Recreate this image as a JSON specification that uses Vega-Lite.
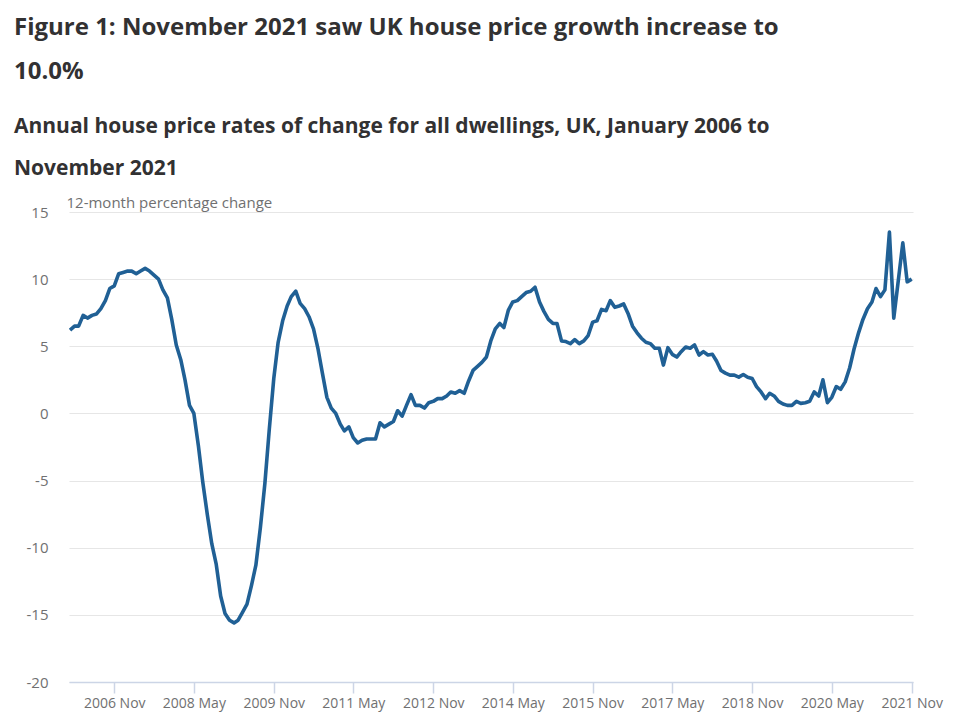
{
  "$schema": "https://vega.github.io/schema/vega-lite/v6.json",
  "autosize": {"type": "none"},
  "width": 844,
  "height": 470,
  "padding": {"left": 69, "top": 212, "right": 47, "bottom": 37},
  "background": "white",
  "config": {"view": {"stroke": null}, "font": "Open Sans"},
  "title": {
    "text": ["Figure 1: November 2021 saw UK house price growth increase to", "10.0%"],
    "subtitle": ["Annual house price rates of change for all dwellings, UK, January 2006 to", "November 2021"],
    "anchor": "start",
    "frame": "group",
    "dx": -55,
    "offset": 16,
    "font": "Open Sans",
    "fontSize": 24,
    "fontWeight": "bold",
    "color": "#323132",
    "lineHeight": 44,
    "subtitleFont": "Open Sans",
    "subtitleFontSize": 21,
    "subtitleFontWeight": "bold",
    "subtitleColor": "#323132",
    "subtitleLineHeight": 42,
    "subtitlePadding": 32
  },
  "data": {
    "values": [
      {"date": "2006-01-01", "value": 6.2},
      {"date": "2006-02-01", "value": 6.5},
      {"date": "2006-03-01", "value": 6.5},
      {"date": "2006-04-01", "value": 7.3},
      {"date": "2006-05-01", "value": 7.1},
      {"date": "2006-06-01", "value": 7.3},
      {"date": "2006-07-01", "value": 7.4},
      {"date": "2006-08-01", "value": 7.8},
      {"date": "2006-09-01", "value": 8.4},
      {"date": "2006-10-01", "value": 9.3},
      {"date": "2006-11-01", "value": 9.5},
      {"date": "2006-12-01", "value": 10.4},
      {"date": "2007-01-01", "value": 10.5},
      {"date": "2007-02-01", "value": 10.6},
      {"date": "2007-03-01", "value": 10.6},
      {"date": "2007-04-01", "value": 10.4},
      {"date": "2007-05-01", "value": 10.6},
      {"date": "2007-06-01", "value": 10.8},
      {"date": "2007-07-01", "value": 10.6},
      {"date": "2007-08-01", "value": 10.3},
      {"date": "2007-09-01", "value": 10.0},
      {"date": "2007-10-01", "value": 9.2},
      {"date": "2007-11-01", "value": 8.6},
      {"date": "2007-12-01", "value": 7.0},
      {"date": "2008-01-01", "value": 5.1},
      {"date": "2008-02-01", "value": 4.0},
      {"date": "2008-03-01", "value": 2.5},
      {"date": "2008-04-01", "value": 0.6},
      {"date": "2008-05-01", "value": 0.0},
      {"date": "2008-06-01", "value": -2.4},
      {"date": "2008-07-01", "value": -5.1},
      {"date": "2008-08-01", "value": -7.5},
      {"date": "2008-09-01", "value": -9.7},
      {"date": "2008-10-01", "value": -11.2},
      {"date": "2008-11-01", "value": -13.6},
      {"date": "2008-12-01", "value": -14.9},
      {"date": "2009-01-01", "value": -15.4},
      {"date": "2009-02-01", "value": -15.6},
      {"date": "2009-03-01", "value": -15.4},
      {"date": "2009-04-01", "value": -14.8},
      {"date": "2009-05-01", "value": -14.2},
      {"date": "2009-06-01", "value": -12.8},
      {"date": "2009-07-01", "value": -11.3},
      {"date": "2009-08-01", "value": -8.5},
      {"date": "2009-09-01", "value": -5.2},
      {"date": "2009-10-01", "value": -1.2},
      {"date": "2009-11-01", "value": 2.6},
      {"date": "2009-12-01", "value": 5.3},
      {"date": "2010-01-01", "value": 6.9},
      {"date": "2010-02-01", "value": 8.0},
      {"date": "2010-03-01", "value": 8.7},
      {"date": "2010-04-01", "value": 9.1},
      {"date": "2010-05-01", "value": 8.2},
      {"date": "2010-06-01", "value": 7.8},
      {"date": "2010-07-01", "value": 7.2},
      {"date": "2010-08-01", "value": 6.3},
      {"date": "2010-09-01", "value": 4.8},
      {"date": "2010-10-01", "value": 3.0},
      {"date": "2010-11-01", "value": 1.2},
      {"date": "2010-12-01", "value": 0.4},
      {"date": "2011-01-01", "value": 0.0},
      {"date": "2011-02-01", "value": -0.8},
      {"date": "2011-03-01", "value": -1.3},
      {"date": "2011-04-01", "value": -1.0},
      {"date": "2011-05-01", "value": -1.8},
      {"date": "2011-06-01", "value": -2.2},
      {"date": "2011-07-01", "value": -2.0},
      {"date": "2011-08-01", "value": -1.9},
      {"date": "2011-09-01", "value": -1.9},
      {"date": "2011-10-01", "value": -1.9},
      {"date": "2011-11-01", "value": -0.7},
      {"date": "2011-12-01", "value": -1.0},
      {"date": "2012-01-01", "value": -0.8},
      {"date": "2012-02-01", "value": -0.6},
      {"date": "2012-03-01", "value": 0.2},
      {"date": "2012-04-01", "value": -0.2},
      {"date": "2012-05-01", "value": 0.6},
      {"date": "2012-06-01", "value": 1.4},
      {"date": "2012-07-01", "value": 0.6},
      {"date": "2012-08-01", "value": 0.6},
      {"date": "2012-09-01", "value": 0.4},
      {"date": "2012-10-01", "value": 0.8},
      {"date": "2012-11-01", "value": 0.9},
      {"date": "2012-12-01", "value": 1.1},
      {"date": "2013-01-01", "value": 1.1},
      {"date": "2013-02-01", "value": 1.3},
      {"date": "2013-03-01", "value": 1.6},
      {"date": "2013-04-01", "value": 1.5},
      {"date": "2013-05-01", "value": 1.7},
      {"date": "2013-06-01", "value": 1.5},
      {"date": "2013-07-01", "value": 2.4},
      {"date": "2013-08-01", "value": 3.2},
      {"date": "2013-09-01", "value": 3.5},
      {"date": "2013-10-01", "value": 3.8},
      {"date": "2013-11-01", "value": 4.2},
      {"date": "2013-12-01", "value": 5.4},
      {"date": "2014-01-01", "value": 6.3},
      {"date": "2014-02-01", "value": 6.7},
      {"date": "2014-03-01", "value": 6.4},
      {"date": "2014-04-01", "value": 7.7},
      {"date": "2014-05-01", "value": 8.3},
      {"date": "2014-06-01", "value": 8.4},
      {"date": "2014-07-01", "value": 8.7},
      {"date": "2014-08-01", "value": 9.0},
      {"date": "2014-09-01", "value": 9.1},
      {"date": "2014-10-01", "value": 9.4},
      {"date": "2014-11-01", "value": 8.3},
      {"date": "2014-12-01", "value": 7.6},
      {"date": "2015-01-01", "value": 7.0},
      {"date": "2015-02-01", "value": 6.7},
      {"date": "2015-03-01", "value": 6.7},
      {"date": "2015-04-01", "value": 5.4},
      {"date": "2015-05-01", "value": 5.35},
      {"date": "2015-06-01", "value": 5.2},
      {"date": "2015-07-01", "value": 5.5},
      {"date": "2015-08-01", "value": 5.2},
      {"date": "2015-09-01", "value": 5.4},
      {"date": "2015-10-01", "value": 5.8},
      {"date": "2015-11-01", "value": 6.8},
      {"date": "2015-12-01", "value": 6.9},
      {"date": "2016-01-01", "value": 7.75},
      {"date": "2016-02-01", "value": 7.65},
      {"date": "2016-03-01", "value": 8.4},
      {"date": "2016-04-01", "value": 7.9},
      {"date": "2016-05-01", "value": 8.0},
      {"date": "2016-06-01", "value": 8.15},
      {"date": "2016-07-01", "value": 7.45},
      {"date": "2016-08-01", "value": 6.5},
      {"date": "2016-09-01", "value": 6.0},
      {"date": "2016-10-01", "value": 5.6},
      {"date": "2016-11-01", "value": 5.3},
      {"date": "2016-12-01", "value": 5.2},
      {"date": "2017-01-01", "value": 4.85},
      {"date": "2017-02-01", "value": 4.85},
      {"date": "2017-03-01", "value": 3.6},
      {"date": "2017-04-01", "value": 4.9},
      {"date": "2017-05-01", "value": 4.4},
      {"date": "2017-06-01", "value": 4.2},
      {"date": "2017-07-01", "value": 4.6},
      {"date": "2017-08-01", "value": 4.95},
      {"date": "2017-09-01", "value": 4.85},
      {"date": "2017-10-01", "value": 5.1},
      {"date": "2017-11-01", "value": 4.35},
      {"date": "2017-12-01", "value": 4.6},
      {"date": "2018-01-01", "value": 4.35},
      {"date": "2018-02-01", "value": 4.4},
      {"date": "2018-03-01", "value": 3.9},
      {"date": "2018-04-01", "value": 3.2},
      {"date": "2018-05-01", "value": 3.0},
      {"date": "2018-06-01", "value": 2.85},
      {"date": "2018-07-01", "value": 2.85},
      {"date": "2018-08-01", "value": 2.7},
      {"date": "2018-09-01", "value": 2.9},
      {"date": "2018-10-01", "value": 2.7},
      {"date": "2018-11-01", "value": 2.6},
      {"date": "2018-12-01", "value": 2.0},
      {"date": "2019-01-01", "value": 1.6},
      {"date": "2019-02-01", "value": 1.1},
      {"date": "2019-03-01", "value": 1.5},
      {"date": "2019-04-01", "value": 1.3},
      {"date": "2019-05-01", "value": 0.9},
      {"date": "2019-06-01", "value": 0.7},
      {"date": "2019-07-01", "value": 0.6},
      {"date": "2019-08-01", "value": 0.6},
      {"date": "2019-09-01", "value": 0.9},
      {"date": "2019-10-01", "value": 0.75},
      {"date": "2019-11-01", "value": 0.8},
      {"date": "2019-12-01", "value": 0.9},
      {"date": "2020-01-01", "value": 1.6},
      {"date": "2020-02-01", "value": 1.3},
      {"date": "2020-03-01", "value": 2.5},
      {"date": "2020-04-01", "value": 0.8},
      {"date": "2020-05-01", "value": 1.2},
      {"date": "2020-06-01", "value": 2.0},
      {"date": "2020-07-01", "value": 1.8},
      {"date": "2020-08-01", "value": 2.35},
      {"date": "2020-09-01", "value": 3.4},
      {"date": "2020-10-01", "value": 4.8},
      {"date": "2020-11-01", "value": 6.0},
      {"date": "2020-12-01", "value": 7.0},
      {"date": "2021-01-01", "value": 7.8},
      {"date": "2021-02-01", "value": 8.3},
      {"date": "2021-03-01", "value": 9.3},
      {"date": "2021-04-01", "value": 8.7},
      {"date": "2021-05-01", "value": 9.2},
      {"date": "2021-06-01", "value": 13.5},
      {"date": "2021-07-01", "value": 7.1},
      {"date": "2021-08-01", "value": 9.9},
      {"date": "2021-09-01", "value": 12.7},
      {"date": "2021-10-01", "value": 9.8},
      {"date": "2021-11-01", "value": 10.0}
    ]
  },
  "mark": {"type": "line", "color": "#206095", "strokeWidth": 3.6, "strokeJoin": "round"},
  "encoding": {
    "x": {
      "field": "date",
      "type": "temporal",
      "scale": {
        "type": "utc",
        "domain": [
          {"year": 2005, "month": 12, "date": 25, "utc": true},
          {"year": 2021, "month": 11, "date": 10, "utc": true}
        ]
      },
      "axis": {
        "title": null,
        "values": [
          {"year": 2006, "month": 11, "date": 1, "utc": true},
          {"year": 2008, "month": 5, "date": 1, "utc": true},
          {"year": 2009, "month": 11, "date": 1, "utc": true},
          {"year": 2011, "month": 5, "date": 1, "utc": true},
          {"year": 2012, "month": 11, "date": 1, "utc": true},
          {"year": 2014, "month": 5, "date": 1, "utc": true},
          {"year": 2015, "month": 11, "date": 1, "utc": true},
          {"year": 2017, "month": 5, "date": 1, "utc": true},
          {"year": 2018, "month": 11, "date": 1, "utc": true},
          {"year": 2020, "month": 5, "date": 1, "utc": true},
          {"year": 2021, "month": 11, "date": 1, "utc": true}
        ],
        "format": "%Y %b",
        "grid": false,
        "domainColor": "#ccd5e6",
        "domainWidth": 1.5,
        "tickColor": "#ccd5e6",
        "tickSize": 11,
        "tickWidth": 1.5,
        "labelFont": "Open Sans",
        "labelFontSize": 14,
        "labelColor": "#707071",
        "labelPadding": 3,
        "labelFlush": false,
        "labelOverlap": false
      }
    },
    "y": {
      "field": "value",
      "type": "quantitative",
      "scale": {"domain": [-20, 15], "nice": false, "zero": false},
      "axis": {
        "values": [-20, -15, -10, -5, 0, 5, 10, 15],
        "labelExpr": "datum.value + ''",
        "title": "12-month percentage change",
        "titleAngle": 0,
        "titleAlign": "left",
        "titleBaseline": "alphabetic",
        "titleX": -3,
        "titleY": -5,
        "titleFont": "Open Sans",
        "titleFontSize": 15,
        "titleFontWeight": "normal",
        "titleColor": "#707071",
        "domain": false,
        "ticks": false,
        "labelFont": "Open Sans",
        "labelFontSize": 15,
        "labelColor": "#707071",
        "labelPadding": 21,
        "gridColor": "#e6e6e6",
        "gridWidth": 1.2
      }
    }
  }
}
